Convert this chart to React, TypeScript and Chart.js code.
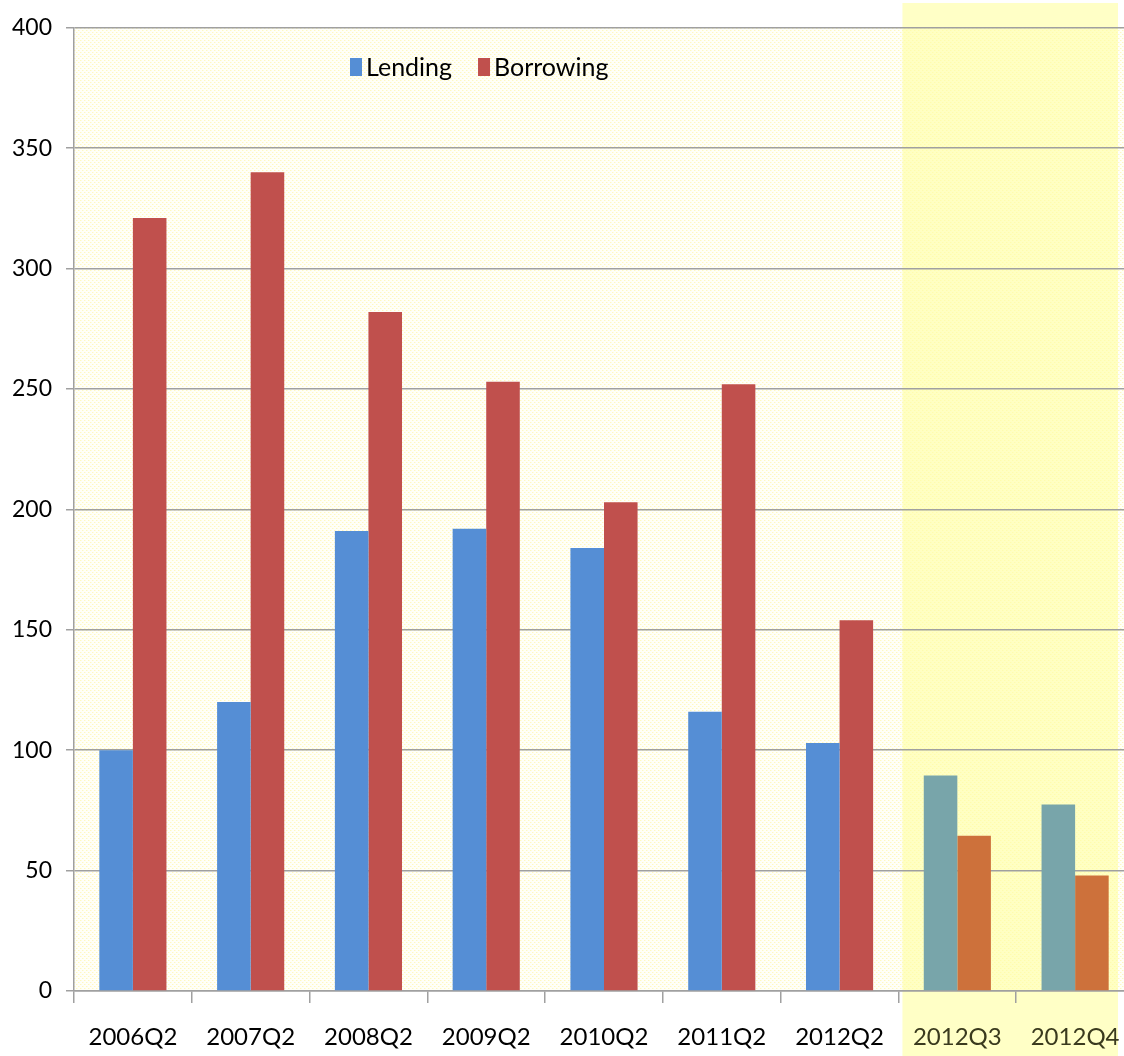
import React, { useEffect, useRef } from "react";
import { Chart, registerables } from "chart.js";

Chart.register(...registerables);

const categories = ["2006Q2", "2007Q2", "2008Q2", "2009Q2", "2010Q2", "2011Q2", "2012Q2", "2012Q3", "2012Q4"];
const lending = [100, 120, 191, 192, 184, 116, 103, 89.5, 77.5];
const borrowing = [321, 340, 282, 253, 203, 252, 154, 64.5, 48];
const seriesNames = ["Lending", "Borrowing"];
const yTicks = [0, 50, 100, 150, 200, 250, 300, 350, 400];
const forecastStart = 7;

const FONT = "Lato, 'Open Sans', sans-serif";

function makePattern(ctx: CanvasRenderingContext2D) {
  const c = document.createElement("canvas");
  c.width = 4;
  c.height = 4;
  const p = c.getContext("2d")!;
  p.fillStyle = "#fffff8";
  p.fillRect(0, 0, 4, 4);
  p.fillStyle = "#fff8c0";
  p.fillRect(0, 0, 1, 1);
  p.fillRect(2, 2, 1, 1);
  p.fillStyle = "#fffcdf";
  p.fillRect(1, 0, 1, 1);
  p.fillRect(3, 2, 1, 1);
  return ctx.createPattern(c, "repeat");
}

const backgroundPlugin = {
  id: "bgPlugin",
  beforeDraw(chart: any) {
    const { ctx, chartArea, scales } = chart;
    ctx.save();
    ctx.fillStyle = "#ffffff";
    ctx.fillRect(0, 0, chart.width, chart.height);
    const pat = makePattern(ctx);
    ctx.fillStyle = pat || "#fffde8";
    ctx.fillRect(chartArea.left, chartArea.top, chartArea.right - chartArea.left, chartArea.bottom - chartArea.top);
    const x = scales.x;
    const slot = x.getPixelForValue(1) - x.getPixelForValue(0);
    const left = x.getPixelForValue(forecastStart) - slot / 2 + 4;
    const right = x.getPixelForValue(categories.length - 1) + slot / 2 - 16;
    ctx.fillStyle = "rgba(255, 255, 160, 0.6)";
    ctx.fillRect(left, 3, right - left, chart.height - 3);
    ctx.restore();
  },
};

const legendPlugin = {
  id: "customLegend",
  afterDatasetsDraw(chart: any) {
    const { ctx, chartArea } = chart;
    ctx.save();
    ctx.font = `25px ${FONT}`;
    ctx.textBaseline = "alphabetic";
    ctx.textAlign = "left";
    let x = chartArea.left + 276;
    const top = 58;
    chart.data.datasets.forEach((ds: any) => {
      const color = Array.isArray(ds.backgroundColor) ? ds.backgroundColor[0] : ds.backgroundColor;
      ctx.fillStyle = color;
      ctx.fillRect(x, top, 12, 18);
      ctx.fillStyle = "#000000";
      ctx.fillText(ds.label, x + 16, top + 18);
      x += 16 + ctx.measureText(ds.label).width + 26;
    });
    ctx.restore();
  },
};

export default function App() {
  const ref = useRef<HTMLCanvasElement | null>(null);

  useEffect(() => {
    if (!ref.current) return;
    const lendColors = categories.map((_, i) => (i >= forecastStart ? "#78a5aa" : "#558ed5"));
    const borrowColors = categories.map((_, i) => (i >= forecastStart ? "#cd713b" : "#c0504d"));
    const chart = new Chart(ref.current, {
      type: "bar",
      data: {
        labels: categories,
        datasets: [
          { label: seriesNames[0], data: lending, backgroundColor: lendColors, borderWidth: 0 },
          { label: seriesNames[1], data: borrowing, backgroundColor: borrowColors, borderWidth: 0 },
        ],
      },
      options: {
        responsive: false,
        animation: false,
        layout: { padding: { left: 0, top: 25, right: 6, bottom: 0 } },
        datasets: { bar: { categoryPercentage: 0.57, barPercentage: 1.0 } },
        plugins: { legend: { display: false }, tooltip: { enabled: false } },
        scales: {
          x: {
            grid: {
              offset: true,
              drawOnChartArea: false,
              drawTicks: true,
              tickLength: 12,
              color: "#a0a0a0",
              lineWidth: 1.5,
            },
            border: { display: true, color: "#a0a0a0", width: 1.5 },
            ticks: {
              font: { family: FONT, size: 24 },
              color: (c: any) => (c.index >= forecastStart ? "#3a3a1e" : "#000000"),
              padding: 20,
              maxRotation: 0,
              autoSkip: false,
            },
            afterFit(scale: any) {
              scale.height = 65;
            },
          },
          y: {
            min: 0,
            max: 400,
            afterBuildTicks(scale: any) {
              scale.ticks = yTicks.map((v) => ({ value: v }));
            },
            grid: { color: "#a0a0a0", lineWidth: 1.5, tickLength: 8, drawTicks: true },
            border: { display: true, color: "#a0a0a0", width: 1.5 },
            ticks: {
              font: { family: FONT, size: 23 },
              color: "#000000",
              padding: 14,
            },
            afterFit(scale: any) {
              scale.width = 74;
            },
          },
        },
      },
      plugins: [backgroundPlugin, legendPlugin],
    });
    return () => chart.destroy();
  }, []);

  return (
    <div
      style={{
        position: "fixed",
        left: 0,
        top: 0,
        width: 1124,
        height: 1056,
        overflow: "hidden",
        background: "#ffffff",
      }}
    >
      <canvas ref={ref} width={1140} height={1056} style={{ display: "block" }} />
    </div>
  );
}
